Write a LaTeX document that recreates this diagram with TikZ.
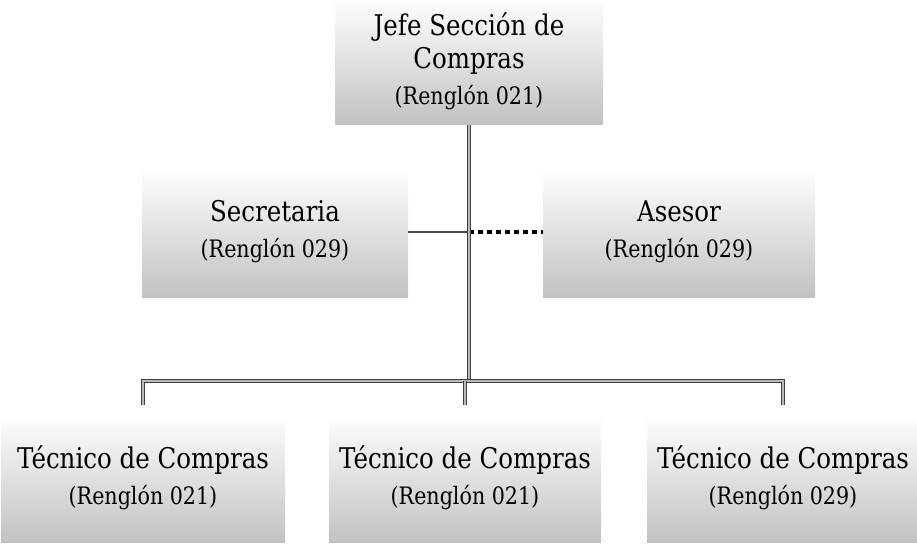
\documentclass[tikz,border=0pt]{standalone}
\usepackage{fontspec}
\setmainfont{DejaVu Serif}[FakeStretch=0.86]
\usetikzlibrary{calc}

\tikzset{
  box/.style={rectangle, top color=white, middle color=black!6, bottom color=black!24, align=center,
    inner sep=0pt, font=\fontsize{28.5}{33}\selectfont},
  trunk/.style={draw=black!75, double=gray!55, line width=.9pt, double distance=2.6pt, line join=miter},
  solidlink/.style={draw=black!70, line width=2.8pt},
  dotlink/.style={draw=black, line width=4pt, dash pattern=on 5pt off 4pt}
}
\newcommand{\reng}[1]{\\[3pt]{\fontsize{24}{28}\selectfont(Renglón #1)}}

\begin{document}
\begin{tikzpicture}[x=1pt, y=-1pt]
      \useasboundingbox (0,0) rectangle (917,543);

      \begin{scope}[every node/.style={box}]
        \node[minimum width=268, minimum height=127] (jefe) at (469,61) {Jefe Sección de\\Compras\reng{021}};
        \node[minimum width=266, minimum height=130] (sec)  at (275,232) {Secretaria\reng{029}};
        \node[minimum width=272, minimum height=130] (ase)  at (679,232) {Asesor\reng{029}};
        \node[minimum width=284, minimum height=128] (tec1) at (143,478) {Técnico de Compras\reng{021}};
        \node[minimum width=272, minimum height=128] (tec2) at (465,478) {Técnico de Compras\reng{021}};
        \node[minimum width=272, minimum height=128] (tec3) at (783,478) {Técnico de Compras\reng{029}};
      \end{scope}

      \coordinate (hub) at (469,381);

      % staff links
      \draw[solidlink] (sec.east) -- (sec -| jefe);
      \draw[dotlink] (sec -| jefe) -- (ase.west);

      % line of command
      \draw[trunk] (jefe.south) -- (hub);
      \draw[trunk] ($(tec1 |- hub)+(0,24)$) -- (tec1 |- hub) -- (tec3 |- hub) -- ++(0,24);
      \draw[trunk] (tec2 |- hub) -- ++(0,24);

    \end{tikzpicture}
\end{document}
